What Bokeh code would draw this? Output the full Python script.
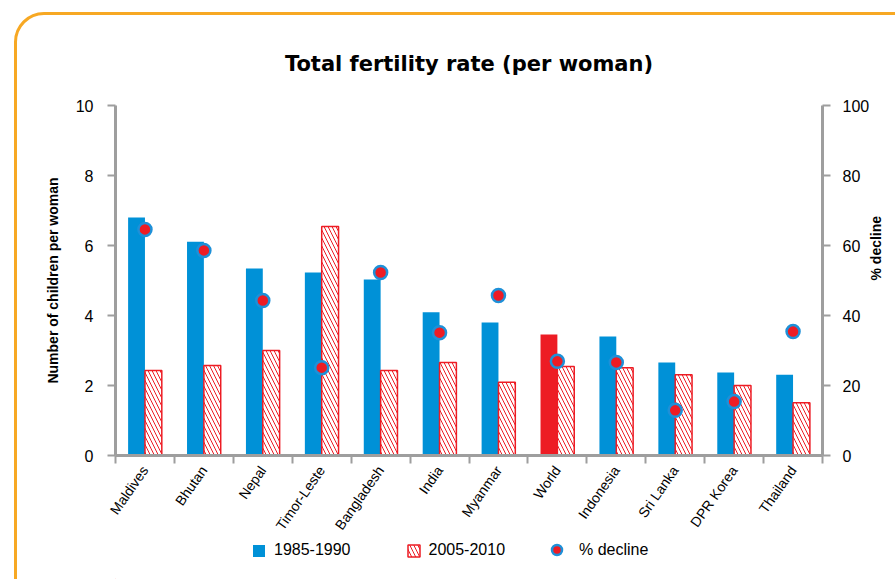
import math
from bokeh.plotting import figure
from bokeh.layouts import column
from bokeh.models import (ColumnDataSource, Range1d, LinearAxis, FixedTicker,
                          Legend, LegendItem, InlineStyleSheet)
from bokeh.embed import file_html
from bokeh.resources import INLINE

countries = ["Maldives", "Bhutan", "Nepal", "Timor-Leste", "Bangladesh", "India",
             "Myanmar", "World", "Indonesia", "Sri Lanka", "DPR Korea", "Thailand"]
tfr_1985_1990 = [6.80, 6.11, 5.34, 5.23, 5.03, 4.09, 3.80, 3.46, 3.40, 2.66, 2.37, 2.31]
tfr_2005_2010 = [2.43, 2.57, 3.00, 6.54, 2.43, 2.66, 2.09, 2.54, 2.51, 2.31, 2.00, 1.51]
pct_decline = [64.6, 58.6, 44.3, 25.1, 52.3, 35.1, 45.7, 26.9, 26.6, 12.9, 15.4, 35.4]
left_ticks = [0, 2, 4, 6, 8, 10]
right_ticks = [0, 20, 40, 60, 80, 100]
legend_labels = ["1985-1990", "2005-2010", "% decline"]

BLUE = "#0091D7"
RED = "#ED1C24"
RING = "#1E90D8"
GRAY = "#9E9E9E"
FONT = "Liberation Sans"

idx = list(range(len(countries)))
bw = 0.286
src = ColumnDataSource(dict(
    x=idx,
    x1=[i - bw / 2 for i in idx],
    x2=[i + bw / 2 for i in idx],
    t1=tfr_1985_1990,
    t2=tfr_2005_2010,
    pct=pct_decline,
    c1=[RED if c == "World" else BLUE for c in countries],
))

p = figure(width=895, height=540, x_range=Range1d(-0.5, len(countries) - 0.5),
           y_range=Range1d(0, 10), output_backend="svg", toolbar_location=None,
           min_border_left=115, min_border_right=67, min_border_top=105,
           min_border_bottom=85)
p.extra_y_ranges = {"pct": Range1d(0, 100)}
p.xgrid.visible = False
p.ygrid.visible = False
p.outline_line_color = None
p.background_fill_color = "white"
p.border_fill_color = "white"

p.title.text = "Total fertility rate (per woman)"
p.title.align = "center"
p.title.text_font = "DejaVu Sans"
p.title.text_font_style = "bold"
p.title.text_font_size = "21px"
p.title.text_color = "black"
p.title.standoff = 59

# left axis
ya = p.yaxis[0]
ya.ticker = FixedTicker(ticks=left_ticks, minor_ticks=[])
ya.axis_label = "Number of children per woman"
ya.axis_label_text_font = FONT
ya.axis_label_text_font_style = "bold"
ya.axis_label_text_font_size = "14px"
ya.axis_label_standoff = 12
ya.major_label_text_font = FONT
ya.major_label_text_font_size = "16px"
ya.major_label_standoff = 14

# right axis
ra = LinearAxis(y_range_name="pct", ticker=FixedTicker(ticks=right_ticks, minor_ticks=[]),
                axis_label="% decline")
ra.axis_label_text_font = FONT
ra.axis_label_text_font_style = "bold"
ra.axis_label_text_font_size = "14px"
ra.axis_label_standoff = 4
ra.axis_label_orientation = math.pi / 2
ra.major_label_text_font = FONT
ra.major_label_text_font_size = "16px"
ra.major_label_standoff = 12
p.add_layout(ra, "right")

for ax in [ya, ra]:
    ax.axis_line_color = GRAY
    ax.axis_line_width = 3
    ax.major_tick_line_color = GRAY
    ax.major_tick_line_width = 2
    ax.major_tick_out = 8
    ax.major_tick_in = 0
    ax.minor_tick_line_color = None
    ax.major_label_text_color = "black"
    ax.axis_label_text_color = "black"

# bottom axis
xa = p.xaxis[0]
xa.ticker = FixedTicker(ticks=idx, minor_ticks=[i - 0.5 for i in range(len(countries) + 1)])
xa.major_label_overrides = {i: c for i, c in zip(idx, countries)}
xa.major_label_orientation = math.radians(55)
xa.major_label_text_font = FONT
xa.major_label_text_font_size = "14px"
xa.major_label_text_color = "black"
xa.major_label_standoff = 4
xa.major_tick_line_color = None
xa.major_tick_out = 0
xa.minor_tick_line_color = GRAY
xa.minor_tick_line_width = 2
xa.minor_tick_out = 8
xa.minor_tick_in = 0
xa.axis_line_color = GRAY
xa.axis_line_width = 3

bar1 = dict(fill_color=BLUE, line_color=None)
bar2 = dict(fill_color="white", line_color=RED, line_width=1.5,
            hatch_pattern="left_diagonal_line", hatch_color=RED,
            hatch_weight=1.0, hatch_scale=8)
dot = dict(size=13, fill_color=RED, line_color=RING, line_width=2.5)

p.vbar(x="x1", top="t1", bottom=0, width=bw, source=src,
       **dict(bar1, fill_color="c1"))
p.vbar(x="x2", top="t2", bottom=0, width=bw, source=src, **bar2)
p.scatter(x="x", y="pct", y_range_name="pct", source=src, **dot)

# legend strip (separate figure below, holding legend proxies outside its view)
p2 = figure(width=895, height=39, x_range=Range1d(0, 1), y_range=Range1d(0, 1),
            output_backend="svg", toolbar_location=None,
            x_axis_location=None, y_axis_location=None,
            min_border_left=0, min_border_right=0, min_border_top=0,
            min_border_bottom=0)
p2.xgrid.visible = False
p2.ygrid.visible = False
p2.outline_line_color = None
p2.border_fill_color = "white"
proxy = ColumnDataSource(dict(x=[-5.0], y=[-5.0], top=[-4.0]))
g1 = p2.vbar(x="x", top="top", bottom="y", width=0.1, source=proxy, **bar1)
g2 = p2.vbar(x="x", top="top", bottom="y", width=0.1, source=proxy, **bar2)
g3 = p2.scatter(x="x", y="y", source=proxy, **dot)

common = dict(orientation="horizontal", label_text_font=FONT,
              label_text_font_size="16px", label_text_color="black",
              border_line_color=None, background_fill_alpha=0, margin=0, padding=0)
legend_a = Legend(items=[LegendItem(label=lab, renderers=[g])
                         for lab, g in zip(legend_labels[:2], [g1, g2])],
                  location=(136, 20), glyph_width=15, glyph_height=15,
                  label_standoff=8, spacing=55, **common)
legend_b = Legend(items=[LegendItem(label=legend_labels[2], renderers=[g3])],
                  location=(429, 17), glyph_width=25, glyph_height=25,
                  label_standoff=10, **common)
p2.add_layout(legend_a, "center")
p2.add_layout(legend_b, "center")

layout = column(p, p2, spacing=0)
layout.stylesheets = [InlineStyleSheet(css="""
:host { overflow: hidden !important; position: relative !important; }
:host::after { content: ''; position: absolute; left: 14px; top: 12px;
  width: 2000px; height: 2000px; border: 3px solid #F7A823; border-radius: 30px;
  pointer-events: none; box-sizing: border-box; }
""")]

open("out.html", "w").write(file_html(layout, INLINE))
